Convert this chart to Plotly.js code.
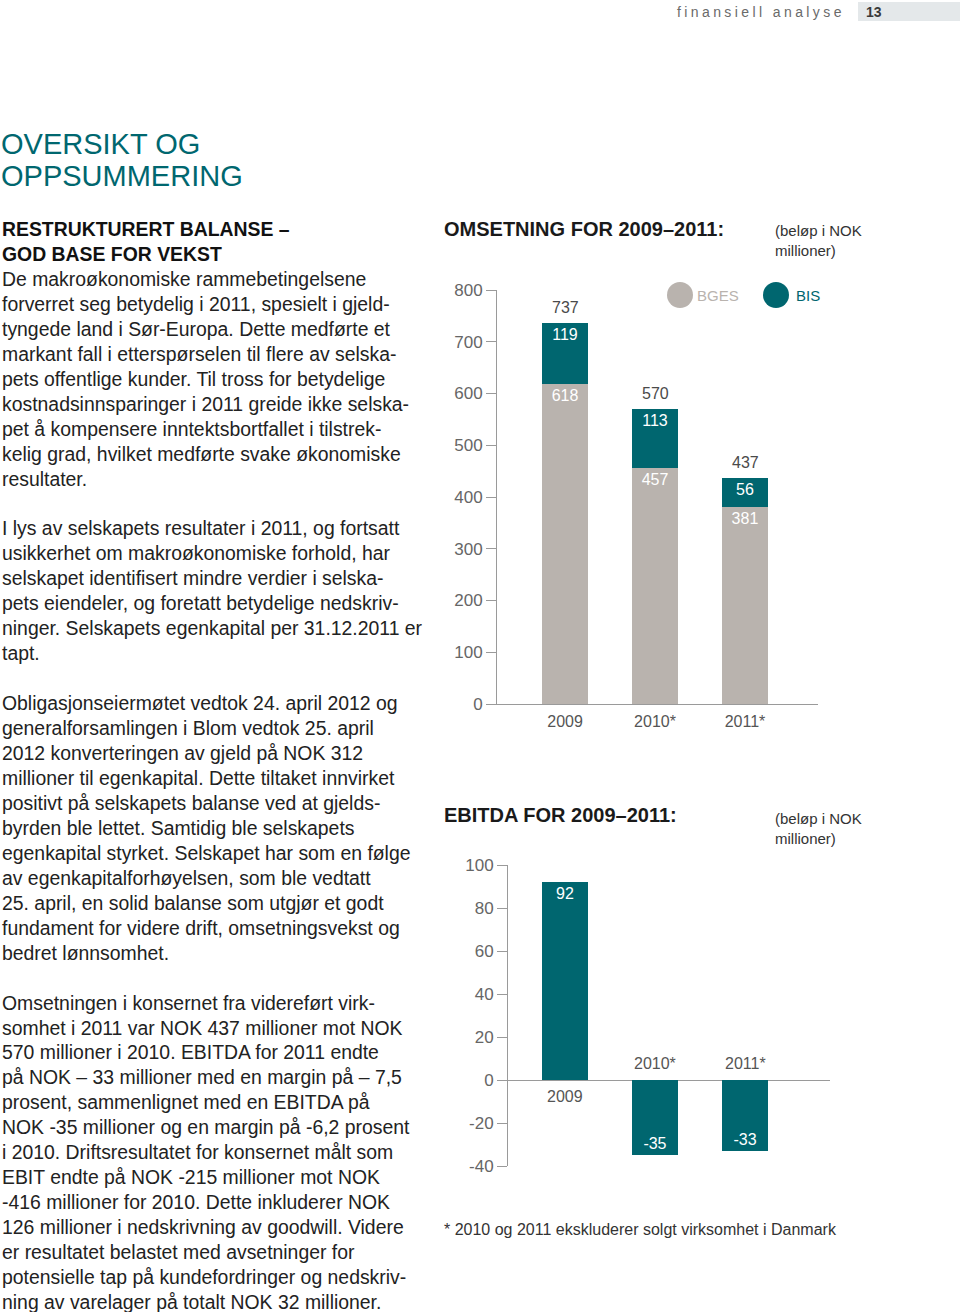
<!DOCTYPE html>
<html>
<head>
<meta charset="utf-8">
<script src="https://cdn.plot.ly/plotly-3.0.1.min.js"></script>
<style>
  html, body { margin:0; padding:0; background:#fff; }
  body { width:960px; height:1312px; position:relative; overflow:hidden; font-family:"Liberation Sans", Arial, sans-serif; }
  #plot { position:absolute; left:0; top:0; width:960px; height:1312px; }
  .hdr { position:absolute; top:3px; left:677px; font-size:14px; letter-spacing:3.4px; color:#6a6a6a; line-height:18px; }
  .pgbox { position:absolute; top:2px; left:858px; width:102px; height:19px; background:#e4e8ea; }
  .pgnum { position:absolute; top:3px; left:866px; font-size:14px; font-weight:bold; color:#3a3a3a; line-height:18px; }
  .title { position:absolute; top:128px; left:1px; font-size:29px; line-height:32px; color:#00676f; white-space:nowrap; }
  .body { position:absolute; top:217px; left:2px; font-size:19.4px; line-height:24.95px; color:#222222; white-space:nowrap; }
  .body b { font-weight:bold; color:#111; }
</style>
</head>
<body>
<div id="plot"></div>
<div class="hdr">finansiell analyse</div>
<div class="pgbox"></div>
<div class="pgnum">13</div>
<div class="title">OVERSIKT OG<br>OPPSUMMERING</div>
<div class="body"><b>RESTRUKTURERT BALANSE –<br>GOD BASE FOR VEKST</b><br>De makroøkonomiske rammebetingelsene<br>forverret seg betydelig i 2011, spesielt i gjeld-<br>tyngede land i Sør-Europa. Dette medførte et<br>markant fall i etterspørselen til flere av selska-<br>pets offentlige kunder. Til tross for betydelige<br>kostnadsinnsparinger i 2011 greide ikke selska-<br>pet å kompensere inntektsbortfallet i tilstrek-<br>kelig grad, hvilket medførte svake økonomiske<br>resultater.<br>&nbsp;<br>I lys av selskapets resultater i 2011, og fortsatt<br>usikkerhet om makroøkonomiske forhold, har<br>selskapet identifisert mindre verdier i selska-<br>pets eiendeler, og foretatt betydelige nedskriv-<br>ninger. Selskapets egenkapital per 31.12.2011 er<br>tapt.<br>&nbsp;<br>Obligasjonseiermøtet vedtok 24. april 2012 og<br>generalforsamlingen i Blom vedtok 25. april<br>2012 konverteringen av gjeld på NOK 312<br>millioner til egenkapital. Dette tiltaket innvirket<br>positivt på selskapets balanse ved at gjelds-<br>byrden ble lettet. Samtidig ble selskapets<br>egenkapital styrket. Selskapet har som en følge<br>av egenkapitalforhøyelsen, som ble vedtatt<br>25. april, en solid balanse som utgjør et godt<br>fundament for videre drift, omsetningsvekst og<br>bedret lønnsomhet.<br>&nbsp;<br>Omsetningen i konsernet fra videreført virk-<br>somhet i 2011 var NOK 437 millioner mot NOK<br>570 millioner i 2010. EBITDA for 2011 endte<br>på NOK – 33 millioner med en margin på – 7,5<br>prosent, sammenlignet med en EBITDA på<br>NOK -35 millioner og en margin på -6,2 prosent<br>i 2010. Driftsresultatet for konsernet målt som<br>EBIT endte på NOK -215 millioner mot NOK<br>-416 millioner for 2010. Dette inkluderer NOK<br>126 millioner i nedskrivning av goodwill. Videre<br>er resultatet belastet med avsetninger for<br>potensielle tap på kundefordringer og nedskriv-<br>ning av varelager på totalt NOK 32 millioner.</div>
<script>
// ---- data ----
const years = ["2009", "2010*", "2011*"];
const seriesNames = ["BGES", "BIS"];
const bges = [618, 457, 381];
const bis = [119, 113, 56];
const ebitda = [92, -35, -33];
const revenueTicks = [0, 100, 200, 300, 400, 500, 600, 700, 800];
const ebitdaTicks = [-40, -20, 0, 20, 40, 60, 80, 100];
const revenueTitle = "OMSETNING FOR 2009–2011:";
const ebitdaTitle = "EBITDA FOR 2009–2011:";
const unitNote = "(beløp i NOK<br>millioner)";
const footnote = "* 2010 og 2011 ekskluderer solgt virksomhet i Danmark";

// ---- styling ----
const W = 960, H = 1312;
const GREY = "#b9b3ae", TEAL = "#00666f", AXIS = "#9a9a9a", TICKC = "#666666";
const FONT = "Liberation Sans, Arial, sans-serif";
const px = x => x / W;
const py = y => (H - y) / H;

const totals = bges.map((v, i) => v + bis[i]);
const idx = years.map((_, i) => i);

const traces = [
  { type: "bar", x: years, y: bges, name: seriesNames[0], xaxis: "x", yaxis: "y",
    marker: { color: GREY }, width: 0.51, text: bges.map(String), textposition: "inside",
    insidetextanchor: "end", textfont: { color: "#ffffff", size: 16, family: FONT },
    showlegend: false, hoverinfo: "skip", cliponaxis: false },
  { type: "bar", x: years, y: bis, name: seriesNames[1], xaxis: "x", yaxis: "y",
    marker: { color: TEAL }, width: 0.51, text: bis.map(String), textposition: "inside",
    insidetextanchor: "end", textfont: { color: "#ffffff", size: 16, family: FONT },
    showlegend: false, hoverinfo: "skip", cliponaxis: false },
  { type: "bar", x: years, y: ebitda, name: "EBITDA", xaxis: "x2", yaxis: "y2",
    marker: { color: TEAL }, width: 0.51, text: ebitda.map(String), textposition: "inside",
    insidetextanchor: "end", textfont: { color: "#ffffff", size: 16, family: FONT },
    showlegend: false, hoverinfo: "skip", cliponaxis: false }
];

const annotations = [];
// totals above stacked bars
idx.forEach(i => {
  annotations.push({ xref: "x", yref: "y", x: i, y: totals[i], text: String(totals[i]),
    showarrow: false, yanchor: "bottom", yshift: 5, font: { size: 16, color: "#4a4a4a", family: FONT } });
});
// EBITDA category labels next to zero line
idx.forEach(i => {
  const pos = ebitda[i] >= 0;
  annotations.push({ xref: "x2", yref: "y2", x: i, y: 0, text: years[i], showarrow: false,
    yanchor: pos ? "top" : "bottom", yshift: pos ? -6 : 6,
    font: { size: 16, color: "#555555", family: FONT } });
});
// titles & notes
annotations.push(
  { xref: "paper", yref: "paper", x: px(442), y: py(229), xanchor: "left", yanchor: "middle",
    text: "<b>" + revenueTitle + "</b>", showarrow: false, font: { size: 20, color: "#1a1a1a", family: FONT } },
  { xref: "paper", yref: "paper", x: px(773), y: py(220), xanchor: "left", yanchor: "top", align: "left",
    text: unitNote, showarrow: false, font: { size: 15, color: "#333333", family: FONT } },
  { xref: "paper", yref: "paper", x: px(442), y: py(815), xanchor: "left", yanchor: "middle",
    text: "<b>" + ebitdaTitle + "</b>", showarrow: false, font: { size: 20, color: "#1a1a1a", family: FONT } },
  { xref: "paper", yref: "paper", x: px(773), y: py(808), xanchor: "left", yanchor: "top", align: "left",
    text: unitNote, showarrow: false, font: { size: 15, color: "#333333", family: FONT } },
  { xref: "paper", yref: "paper", x: px(442), y: py(1229), xanchor: "left", yanchor: "middle",
    text: footnote, showarrow: false, font: { size: 16, color: "#333333", family: FONT } },
  // legend labels
  { xref: "paper", yref: "paper", x: px(695), y: py(295), xanchor: "left", yanchor: "middle",
    text: seriesNames[0], showarrow: false, font: { size: 15, color: GREY, family: FONT } },
  { xref: "paper", yref: "paper", x: px(794), y: py(295), xanchor: "left", yanchor: "middle",
    text: seriesNames[1], showarrow: false, font: { size: 15, color: TEAL, family: FONT } }
);

const shapes = [
  { type: "circle", xref: "paper", yref: "paper", x0: px(667), x1: px(693), y0: py(308), y1: py(282),
    fillcolor: GREY, line: { width: 0 } },
  { type: "circle", xref: "paper", yref: "paper", x0: px(763), x1: px(789), y0: py(308), y1: py(282),
    fillcolor: TEAL, line: { width: 0 } }
];

const layout = {
  width: W, height: H,
  margin: { l: 0, r: 0, t: 0, b: 0 },
  paper_bgcolor: "rgba(0,0,0,0)", plot_bgcolor: "rgba(0,0,0,0)",
  font: { family: FONT },
  barmode: "stack",
  showlegend: false,
  xaxis: { domain: [px(497), px(818)], range: [-0.756, 2.811], type: "category",
    showline: true, linecolor: AXIS, linewidth: 1, ticks: "", showgrid: false, zeroline: false,
    ticklabelstandoff: 3,
    tickfont: { size: 16, color: "#555555", family: FONT }, anchor: "y", fixedrange: true },
  yaxis: { domain: [py(704), py(290)], range: [0, 800],
    tickmode: "array", tickvals: revenueTicks, ticktext: revenueTicks.map(String),
    showline: true, linecolor: AXIS, linewidth: 1, ticks: "outside", ticklen: 10, tickcolor: AXIS,
    showgrid: false, zeroline: false, tickfont: { size: 17, color: TICKC, family: FONT },
    anchor: "x", fixedrange: true },
  xaxis2: { domain: [px(508), px(830)], range: [-0.633, 2.944], type: "category",
    showline: false, showticklabels: false, ticks: "", showgrid: false, zeroline: false,
    anchor: "y2", fixedrange: true },
  yaxis2: { domain: [py(1166), py(865)], range: [-40, 100],
    tickmode: "array", tickvals: ebitdaTicks, ticktext: ebitdaTicks.map(String),
    showline: true, linecolor: AXIS, linewidth: 1, ticks: "outside", ticklen: 10, tickcolor: AXIS,
    showgrid: false, zeroline: true, zerolinecolor: AXIS, zerolinewidth: 1,
    tickfont: { size: 17, color: TICKC, family: FONT }, anchor: "x2", fixedrange: true },
  annotations: annotations,
  shapes: shapes
};

Plotly.newPlot("plot", traces, layout, { displayModeBar: false, staticPlot: true });
</script>
</body>
</html>
